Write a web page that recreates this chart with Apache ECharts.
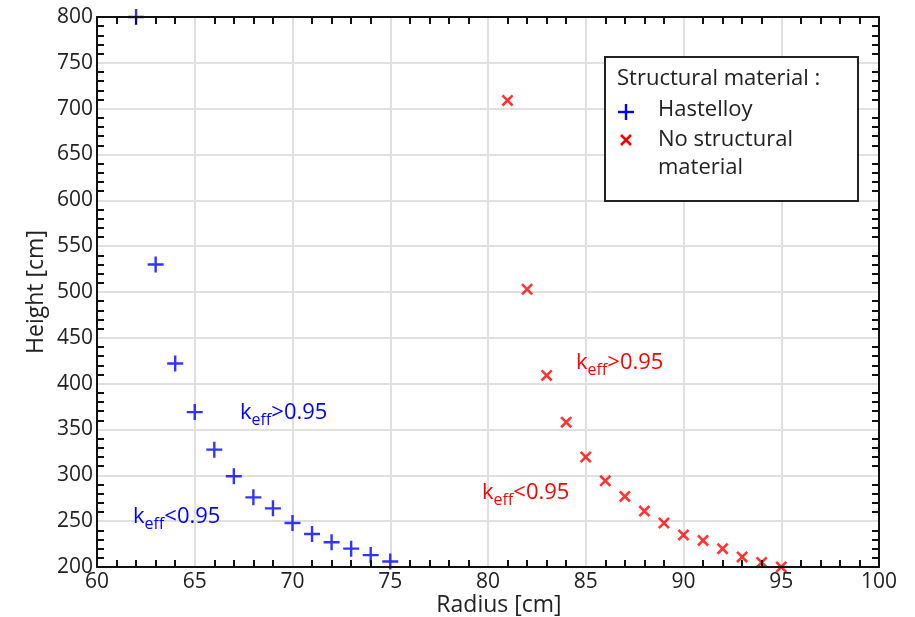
<!DOCTYPE html>
<head>
    <meta charset="utf-8">
    <script src="https://cdn.jsdelivr.net/npm/echarts@6/dist/echarts.min.js"></script>
    <title>Height vs Radius</title>
    <style>
        body { margin: 0; background: #fff; }
        #main { width: 915px; height: 617px; }
    </style>
</head>

<body>
    <div id="main"></div>
    <script type="text/javascript">
        // radius [cm] / height [cm]
        var hastelloyRadius = [62, 63, 64, 65, 66, 67, 68, 69, 70, 71, 72, 73, 74, 75];
        var hastelloyHeight = [800, 530, 422, 369, 328, 299, 276, 264, 248, 236, 227, 220, 213, 206];
        var noStructRadius = [81, 82, 83, 84, 85, 86, 87, 88, 89, 90, 91, 92, 93, 94, 95];
        var noStructHeight = [709, 503, 409, 358, 320, 294, 277, 261, 248, 235, 229, 220, 211, 205, 200];
        var xTicks = [60, 65, 70, 75, 80, 85, 90, 95, 100];
        var yTicks = [200, 250, 300, 350, 400, 450, 500, 550, 600, 650, 700, 750, 800];

        var FONT = '"Open Sans", sans-serif';
        var plusPath = 'path://M-1.2,-8H1.2V-1.2H8V1.2H1.2V8H-1.2V1.2H-8V-1.2H-1.2Z';
        var crossPath = 'path://M-4.1,-5.9L5.9,4.1L4.1,5.9L-5.9,-4.1Z M4.1,-5.9L5.9,-4.1L-4.1,5.9L-5.9,4.1Z';

        function pairs(xs, ys) {
            return xs.map(function (x, i) { return [x, ys[i]]; });
        }

        var X_RANGE = { type: 'value', min: 60, max: 100, interval: 5 };
        var Y_RANGE = { type: 'value', min: 200, max: 800, interval: 50 };
        var axisLine = { show: true, lineStyle: { color: '#111', width: 2 } };
        var minor = { show: true, splitNumber: 5, length: 7, lineStyle: { color: '#111', width: 2 } };

        // grid lines only: sits under the markers
        function gridAxis(pos) {
            return Object.assign({}, pos === 'bottom' || pos === 'top' ? X_RANGE : Y_RANGE, {
                position: pos, z: 0,
                axisLine: { show: false }, axisTick: { show: false }, axisLabel: { show: false },
                splitLine: { show: true, lineStyle: { color: '#e0e0e0', width: 2 } }
            });
        }
        // frame axis with inward minor ticks: sits over the markers
        function frameAxis(pos, extra) {
            return Object.assign({}, pos === 'bottom' || pos === 'top' ? X_RANGE : Y_RANGE, {
                position: pos, z: 5,
                axisLine: axisLine,
                axisTick: { show: false, inside: true },
                minorTick: minor,
                splitLine: { show: false },
                axisLabel: { show: false }
            }, extra || {});
        }

        function kLabel(sign, color, x, y) {
            return {
                type: 'text', x: x, y: y, z: 20,
                style: {
                    text: '{k|k}{s|eff}{k|' + sign + '0.95}',
                    verticalAlign: 'middle',
                    rich: {
                        k: { fontSize: 22, fontFamily: FONT, fill: color, lineHeight: 30 },
                        s: { fontSize: 16, fontFamily: FONT, fill: color, lineHeight: 16, verticalAlign: 'bottom' }
                    }
                }
            };
        }

        // legend glyphs (plus and cross) drawn as shapes
        function plusGlyph(cx, cy, color) {
            return [
                { type: 'rect', z: 11, shape: { x: cx - 8, y: cy - 1.2, width: 16, height: 2.4 }, style: { fill: color } },
                { type: 'rect', z: 11, shape: { x: cx - 1.2, y: cy - 8, width: 2.4, height: 16 }, style: { fill: color } }
            ];
        }
        function crossGlyph(cx, cy, color) {
            function pt(a, b) { return [cx + a, cy + b]; }
            return [
                { type: 'polygon', z: 11, shape: { points: [pt(-4.1, -5.9), pt(5.9, 4.1), pt(4.1, 5.9), pt(-5.9, -4.1)] }, style: { fill: color } },
                { type: 'polygon', z: 11, shape: { points: [pt(4.1, -5.9), pt(5.9, -4.1), pt(-4.1, 5.9), pt(-5.9, 4.1)] }, style: { fill: color } }
            ];
        }

        var myChart = echarts.init(document.getElementById('main'));
        var option = {
            animation: false,
            grid: { left: 97, right: 36, top: 17, bottom: 50, outerBoundsMode: 'none' },
            xAxis: [
                gridAxis('bottom'),
                frameAxis('bottom', {
                    name: 'Radius [cm]', nameLocation: 'middle', nameGap: 27, nameMoveOverlap: false,
                    nameTextStyle: { fontSize: 23, fontFamily: FONT, color: '#222', padding: [0, 0, 0, 22] },
                    axisLabel: { show: true, fontSize: 21, fontFamily: FONT, color: '#222', margin: 5,
                        formatter: function (v) { return xTicks.indexOf(v) >= 0 ? String(v) : ''; } }
                }),
                frameAxis('top')
            ],
            yAxis: [
                gridAxis('left'),
                frameAxis('left', {
                    name: 'Height [cm]', nameLocation: 'middle', nameGap: 49, nameMoveOverlap: false,
                    nameTextStyle: { fontSize: 23, fontFamily: FONT, color: '#222' },
                    axisLabel: { show: true, fontSize: 21, fontFamily: FONT, color: '#222', margin: 4,
                        formatter: function (v) { return yTicks.indexOf(v) >= 0 ? String(v) : ''; } }
                }),
                frameAxis('right')
            ],
            series: [{
                name: 'Hastelloy', type: 'scatter', clip: false,
                symbol: plusPath, symbolSize: 16,
                itemStyle: { color: '#0000ff' },
                data: pairs(hastelloyRadius, hastelloyHeight)
            }, {
                name: 'No structural material', type: 'scatter', clip: false,
                symbol: crossPath, symbolSize: 12,
                itemStyle: { color: '#ff0000' },
                data: pairs(noStructRadius, noStructHeight)
            }],
            graphic: [
                { type: 'rect', z: 10, shape: { x: 605, y: 57, width: 253, height: 144 },
                  style: { fill: '#fff', stroke: '#222', lineWidth: 2 } },
                { type: 'text', z: 11, x: 617, y: 79,
                  style: { text: 'Structural material :', fontSize: 22, fontFamily: FONT, fill: '#222', verticalAlign: 'middle' } },
                { type: 'text', z: 11, x: 658, y: 110,
                  style: { text: 'Hastelloy', fontSize: 22, fontFamily: FONT, fill: '#222', verticalAlign: 'middle' } },
                { type: 'text', z: 11, x: 658, y: 140,
                  style: { text: 'No structural', fontSize: 22, fontFamily: FONT, fill: '#222', verticalAlign: 'middle' } },
                { type: 'text', z: 11, x: 658, y: 168,
                  style: { text: 'material', fontSize: 22, fontFamily: FONT, fill: '#222', verticalAlign: 'middle' } },
                kLabel('>', '#0000ff', 240, 413),
                kLabel('<', '#0000ff', 133, 517),
                kLabel('>', '#ff0000', 576, 363),
                kLabel('<', '#ff0000', 482, 493)
            ].concat(plusGlyph(626, 112, '#0000ff'), crossGlyph(626, 140, '#ff0000'))
        };
        myChart.setOption(option);
    </script>
</body>
